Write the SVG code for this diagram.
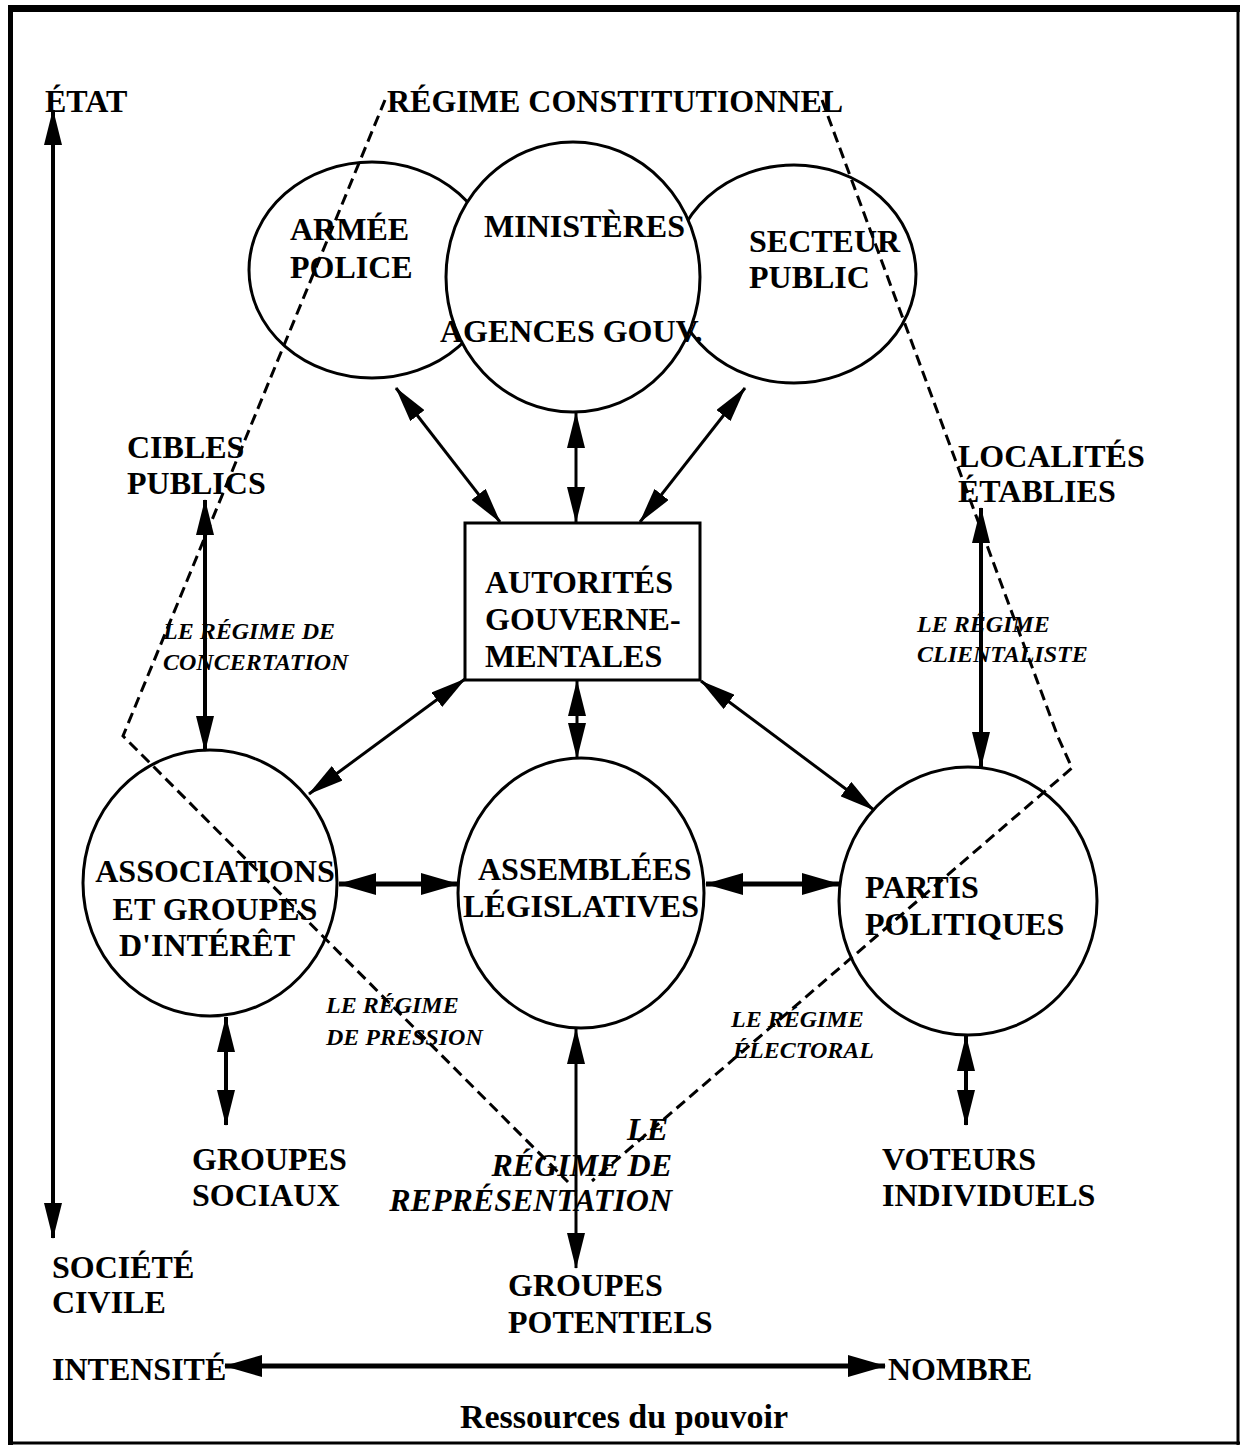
<svg xmlns="http://www.w3.org/2000/svg" width="1243" height="1450" viewBox="0 0 1243 1450">
<defs>
<style>
.t{font-family:"Liberation Serif","Times New Roman",serif;font-weight:bold;font-size:32px;fill:#000}
.i{font-family:"Liberation Serif","Times New Roman",serif;font-weight:bold;font-style:italic;font-size:24px;fill:#000}
.il{font-family:"Liberation Serif","Times New Roman",serif;font-weight:bold;font-style:italic;font-size:32px;fill:#000}
.sh{fill:#fff;stroke:#000;stroke-width:3}
.a3{stroke:#000;stroke-width:3;fill:none;marker-start:url(#ah);marker-end:url(#ah)}
.a4{stroke:#000;stroke-width:4;fill:none;marker-start:url(#ah);marker-end:url(#ah)}
.a5{stroke:#000;stroke-width:5;fill:none;marker-start:url(#ahb);marker-end:url(#ahb)}
.d{stroke:#000;stroke-width:3;stroke-dasharray:11 6;fill:none}
</style>
<marker id="ah" viewBox="0 0 36 18" refX="35" refY="9" markerWidth="36" markerHeight="18" markerUnits="userSpaceOnUse" orient="auto-start-reverse"><path d="M0,0 L36,9 L0,18 z" fill="#000"/></marker>
<marker id="ahb" viewBox="0 0 38 22" refX="37" refY="11" markerWidth="38" markerHeight="22" markerUnits="userSpaceOnUse" orient="auto-start-reverse"><path d="M0,0 L38,11 L0,22 z" fill="#000"/></marker>
</defs>
<rect x="0" y="0" width="1243" height="1450" fill="#fff"/>
<g id="frame" fill="none" stroke="#000">
<line x1="8" y1="8.5" x2="1240" y2="8.5" stroke-width="7"/>
<line x1="10.5" y1="6" x2="10.5" y2="1445" stroke-width="5"/>
<line x1="1238" y1="6" x2="1238" y2="1445" stroke-width="3"/>
<line x1="9" y1="1443" x2="1240" y2="1443" stroke-width="3"/>
</g>

<g id="armee">
<ellipse class="sh" cx="372" cy="270" rx="123" ry="108"/>
<text class="t" x="290" y="240">ARMÉE</text>
<text class="t" x="290" y="278">POLICE</text>
</g>
<g id="secteur">
<ellipse class="sh" cx="794" cy="274" rx="122" ry="109"/>
<text class="t" x="749" y="252">SECTEUR</text>
<text class="t" x="749" y="288">PUBLIC</text>
</g>
<g id="ministeres">
<ellipse class="sh" cx="573" cy="277" rx="127" ry="135"/>
<text class="t" x="484" y="237">MINISTÈRES</text>
<text class="t" x="440" y="342">AGENCES GOUV.</text>
</g>

<g id="autorites">
<rect class="sh" x="465" y="523" width="235" height="157"/>
<text class="t" x="485" y="593">AUTORITÉS</text>
<text class="t" x="485" y="630">GOUVERNE-</text>
<text class="t" x="485" y="667">MENTALES</text>
</g>

<g id="associations">
<ellipse class="sh" cx="210" cy="883" rx="127" ry="133"/>
<text class="t" x="215" y="882" text-anchor="middle">ASSOCIATIONS</text>
<text class="t" x="215" y="920" text-anchor="middle">ET GROUPES</text>
<text class="t" x="207" y="956" text-anchor="middle">D'INTÉRÊT</text>
</g>
<g id="assemblees">
<ellipse class="sh" cx="581" cy="893" rx="123" ry="135"/>
<text class="t" x="478" y="880">ASSEMBLÉES</text>
<text class="t" x="463" y="917">LÉGISLATIVES</text>
</g>
<g id="partis">
<ellipse class="sh" cx="968" cy="901" rx="129" ry="134"/>
<text class="t" x="865" y="898">PARTIS</text>
<text class="t" x="865" y="935">POLITIQUES</text>
</g>

<g id="etat"><text class="t" x="45" y="112">ÉTAT</text></g>
<g id="regime-constitutionnel"><text class="t" x="387" y="112">RÉGIME CONSTITUTIONNEL</text></g>
<g id="cibles"><text class="t" x="127" y="458">CIBLES</text><text class="t" x="127" y="494">PUBLICS</text></g>
<g id="localites"><text class="t" x="958" y="467">LOCALITÉS</text><text class="t" x="958" y="502">ÉTABLIES</text></g>
<g id="groupes-sociaux"><text class="t" x="192" y="1170">GROUPES</text><text class="t" x="192" y="1206">SOCIAUX</text></g>
<g id="voteurs"><text class="t" x="882" y="1170">VOTEURS</text><text class="t" x="882" y="1206">INDIVIDUELS</text></g>
<g id="societe"><text class="t" x="52" y="1278">SOCIÉTÉ</text><text class="t" x="52" y="1313">CIVILE</text></g>
<g id="groupes-potentiels"><text class="t" x="508" y="1296">GROUPES</text><text class="t" x="508" y="1333">POTENTIELS</text></g>
<g id="intensite"><text class="t" x="52" y="1380">INTENSITÉ</text></g>
<g id="nombre"><text class="t" x="888" y="1380">NOMBRE</text></g>
<g id="ressources"><text class="t" x="624" y="1428" text-anchor="middle" style="font-size:34px">Ressources du pouvoir</text></g>

<g id="regime-labels">
<text class="i" x="163" y="639">LE RÉGIME DE</text>
<text class="i" x="163" y="670">CONCERTATION</text>
<text class="i" x="917" y="632">LE RÉGIME</text>
<text class="i" x="917" y="662">CLIENTALISTE</text>
<text class="i" x="326" y="1013">LE RÉGIME</text>
<text class="i" x="326" y="1045">DE PRESSION</text>
<text class="i" x="731" y="1027">LE RÉGIME</text>
<text class="i" x="733" y="1058">ÉLECTORAL</text>
<text class="il" x="668" y="1140" text-anchor="end">LE</text>
<text class="il" x="672" y="1176" text-anchor="end">RÉGIME DE</text>
<text class="il" x="672" y="1211" text-anchor="end">REPRÉSENTATION</text>
</g>

<g id="connectors">
<line class="a3" x1="396" y1="388" x2="500" y2="522"/>
<line class="a3" x1="576" y1="413" x2="576" y2="522"/>
<line class="a3" x1="745" y1="388" x2="640" y2="522"/>
<line class="a3" x1="465" y1="679" x2="309" y2="794"/>
<line class="a3" x1="577" y1="681" x2="577" y2="758"/>
<line class="a3" x1="701" y1="681" x2="874" y2="810"/>
<line class="a5" x1="339" y1="884" x2="458" y2="884"/>
<line class="a5" x1="706" y1="884" x2="839" y2="884"/>
<line class="a4" x1="205" y1="500" x2="205" y2="751"/>
<line class="a4" x1="981" y1="508" x2="981" y2="767"/>
<line class="a4" x1="226" y1="1017" x2="226" y2="1125"/>
<line class="a3" x1="576" y1="1029" x2="576" y2="1268"/>
<line class="a4" x1="966" y1="1036" x2="966" y2="1125"/>
<line class="a4" x1="53" y1="110" x2="53" y2="1238"/>
<line class="a5" x1="225" y1="1366" x2="885" y2="1366"/>
</g>

<g id="regime-boundary">
<polyline class="d" points="385,100 123,736 568,1182"/>
<polyline class="d" points="822,100 1058,737 1072,768 592,1181"/>
</g>
</svg>
